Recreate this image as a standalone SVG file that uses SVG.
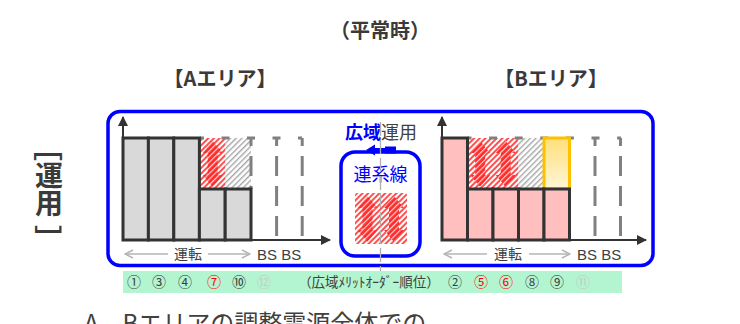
<svg xmlns="http://www.w3.org/2000/svg" width="740" height="324" viewBox="0 0 740 324">
<style>
.jp{font-family:'Noto Sans CJK JP','Noto Sans',sans-serif}
.ttl{font-size:20px;font-weight:bold;fill:#3a3a3a;text-anchor:middle}
.vl{font-size:28px;font-weight:bold;fill:#3a3a3a;text-anchor:middle}
.bar{stroke:#333;stroke-width:3}
.gray{fill:#d9d9d9}
.pink{fill:#ffbfbf}
.dash{stroke:#808080;stroke-width:3;fill:none}
.axis{stroke:#333;stroke-width:2;fill:none}
.lbl{font-size:14px;fill:#404040}
.bs{font-family:'Liberation Sans',Arial,sans-serif;font-size:15px;fill:#404040}
.garr{stroke:#b4b4b4;stroke-width:1.5;fill:none}
.num{font-size:14px;fill:#404040;text-anchor:middle}
.red{fill:#ff0000}
.lg{fill:#c8c8c8}
</style>
<defs>
<pattern id="hR" width="4" height="4" patternUnits="userSpaceOnUse" patternTransform="rotate(45)">
<rect width="4" height="4" fill="#fff"/><rect width="2" height="4" fill="#ff5050"/>
</pattern>
<pattern id="hRD" width="4" height="4" patternUnits="userSpaceOnUse" patternTransform="rotate(45)">
<rect width="4" height="4" fill="#ff2a2a"/><rect width="1.2" height="4" fill="#ffffff" fill-opacity="0.8"/>
</pattern>
<pattern id="hG" width="4" height="4" patternUnits="userSpaceOnUse" patternTransform="rotate(45)">
<rect width="4" height="4" fill="#fff"/><rect width="1.4" height="4" fill="#a6a6a6"/>
</pattern>
<linearGradient id="yel" x1="0" y1="0" x2="0" y2="1">
<stop offset="0" stop-color="#ffe07a"/><stop offset="1" stop-color="#fff6d6"/>
</linearGradient>
<path id="dbl" d="M0,0 L10,12 L5,12 L5,34 L10,34 L0,46 L-10,34 L-5,34 L-5,12 L-10,12 Z"/>
<marker id="ah" markerWidth="10" markerHeight="10" refX="9" refY="5" orient="auto" markerUnits="userSpaceOnUse">
<path d="M0,0 L10,5 L0,10 Z" fill="#333"/>
</marker>
<marker id="ga" markerWidth="10" markerHeight="10" refX="9" refY="5" orient="auto-start-reverse" markerUnits="userSpaceOnUse">
<path d="M1,1 L9,5 L1,9" fill="none" stroke="#b4b4b4" stroke-width="1.5"/>
</marker>
</defs>

<g id="titles" class="jp">
<text x="380" y="38" class="ttl">（平常時）</text>
<text x="220" y="86" class="ttl">【Aエリア】</text>
<text x="551" y="86" class="ttl">【Bエリア】</text>
</g>

<g id="sideLabel" class="jp">
<text class="vl" transform="translate(49,147) rotate(90)" dominant-baseline="central">［</text>
<text x="49" y="161" style="font-size:28px;font-weight:bold;fill:#3a3a3a;writing-mode:vertical-rl">運用</text>
<text class="vl" transform="translate(49,239) rotate(90)" dominant-baseline="central">］</text>
</g>

<g id="frame">
<rect x="108" y="111.5" width="545" height="154" rx="12" fill="none" stroke="#0000ff" stroke-width="3.5"/>
</g>

<g id="areaA">
<rect x="200" y="138" width="25.5" height="51" fill="url(#hR)"/>
<use href="#dbl" x="212.7" y="141" fill="url(#hRD)"/>
<rect x="225.5" y="138" width="25.5" height="51" fill="url(#hG)"/>
<line x1="200" y1="138" x2="302" y2="138" class="dash" stroke-dasharray="8 17.5" stroke-dashoffset="4"/>
<line x1="276.6" y1="138" x2="276.6" y2="240" class="dash" stroke-dasharray="20 10" stroke-dashoffset="12"/>
<line x1="302.2" y1="138" x2="302.2" y2="240" class="dash" stroke-dasharray="20 10" stroke-dashoffset="12"/>
<line x1="251" y1="138" x2="251" y2="189" class="dash" stroke-dasharray="20 10" stroke-dashoffset="12"/>
<rect x="123" y="138" width="25.4" height="102" class="bar gray"/>
<rect x="148.4" y="138" width="25.4" height="102" class="bar gray"/>
<rect x="173.8" y="138" width="25.6" height="102" class="bar gray"/>
<rect x="199.4" y="189" width="25.8" height="51" class="bar gray"/>
<rect x="225.2" y="189" width="25.8" height="51" class="bar gray"/>
<line x1="123" y1="240" x2="123" y2="117" class="axis" marker-end="url(#ah)"/>
<line x1="123" y1="240" x2="330" y2="240" class="axis" marker-end="url(#ah)"/>
<line x1="168" y1="254" x2="125" y2="254" class="garr" marker-end="url(#ga)"/>
<line x1="208" y1="254" x2="250" y2="254" class="garr" marker-end="url(#ga)"/>
<text x="188" y="259" class="jp lbl" text-anchor="middle">運転</text>
<text x="257" y="260" class="bs">BS BS</text>
</g>

<g id="areaB">
<rect x="467.5" y="138" width="51" height="51" fill="url(#hR)"/>
<use href="#dbl" x="480.2" y="141" fill="url(#hRD)"/>
<use href="#dbl" x="505.7" y="141" fill="url(#hRD)"/>
<rect x="518.5" y="138" width="25.5" height="51" fill="url(#hG)"/>
<line x1="467.5" y1="138" x2="621" y2="138" class="dash" stroke-dasharray="8 17.6" stroke-dashoffset="4"/>
<line x1="595" y1="138" x2="595" y2="240" class="dash" stroke-dasharray="20 10" stroke-dashoffset="12"/>
<line x1="620.5" y1="138" x2="620.5" y2="240" class="dash" stroke-dasharray="20 10" stroke-dashoffset="12"/>
<rect x="544" y="138" width="25.5" height="51" fill="url(#yel)" stroke="#ffc000" stroke-width="3"/>
<rect x="442" y="138" width="25.5" height="102" class="bar pink"/>
<rect x="467.5" y="189" width="25.5" height="51" class="bar pink"/>
<rect x="493" y="189" width="25.5" height="51" class="bar pink"/>
<rect x="518.5" y="189" width="25.5" height="51" class="bar pink"/>
<rect x="544" y="189" width="25.5" height="51" class="bar pink"/>
<line x1="442" y1="240" x2="442" y2="117" class="axis" marker-end="url(#ah)"/>
<line x1="442" y1="240" x2="646" y2="240" class="axis" marker-end="url(#ah)"/>
<line x1="487" y1="254" x2="444" y2="254" class="garr" marker-end="url(#ga)"/>
<line x1="529" y1="254" x2="570" y2="254" class="garr" marker-end="url(#ga)"/>
<text x="508" y="259" class="jp lbl" text-anchor="middle">運転</text>
<text x="577" y="260" class="bs">BS BS</text>
</g>

<g id="interconnector">
<rect x="341" y="152" width="79" height="104" rx="14" fill="#fff" stroke="#0000ff" stroke-width="3.5"/>
<text x="380.5" y="181" class="jp" style="font-size:18px;fill:#0000ff" text-anchor="middle">連系線</text>
<rect x="355" y="193" width="52" height="51" rx="2" fill="url(#hR)"/>
<use href="#dbl" x="367.5" y="196" fill="url(#hRD)"/>
<use href="#dbl" x="394" y="196" fill="url(#hRD)"/>
<text x="345" y="139" class="jp" style="font-size:18px"><tspan font-weight="bold" fill="#0000ff">広域</tspan><tspan fill="#404040">運用</tspan></text>
<path d="M366,150 L375,144.5 L375,148 L385,148 L385,146.5 L396,146.5 L396,153.5 L385,153.5 L385,152 L375,152 L375,155.5 Z" fill="#0000ff"/>
</g>

<g id="connectors">
<line x1="380.5" y1="122" x2="380.5" y2="271" stroke="#b0b0b0" stroke-width="1.3" stroke-dasharray="14 4"/>
</g>

<g id="meritOrder" class="jp">
<rect x="123" y="271" width="499" height="22" fill="#b3f5d0"/>
<text x="134" y="287" class="num">①</text>
<text x="159" y="287" class="num">③</text>
<text x="185" y="287" class="num">④</text>
<text x="214" y="287" class="num red">⑦</text>
<text x="239" y="287" class="num">⑩</text>
<text x="264" y="287" class="num lg">⑫</text>
<text x="369" y="287" style="font-size:13.5px;fill:#404040" text-anchor="middle">（広域ﾒﾘｯﾄｵｰﾀﾞｰ順位）</text>
<text x="455" y="287" class="num">②</text>
<text x="481" y="287" class="num red">⑤</text>
<text x="506" y="287" class="num red">⑥</text>
<text x="532" y="287" class="num">⑧</text>
<text x="557" y="287" class="num">⑨</text>
<text x="583" y="287" class="num lg">⑪</text>
</g>

<g id="footer">
<text x="84" y="332" class="jp" style="font-size:24px;fill:#404040">A、Bエリアの調整電源全体での</text>
</g>
</svg>
